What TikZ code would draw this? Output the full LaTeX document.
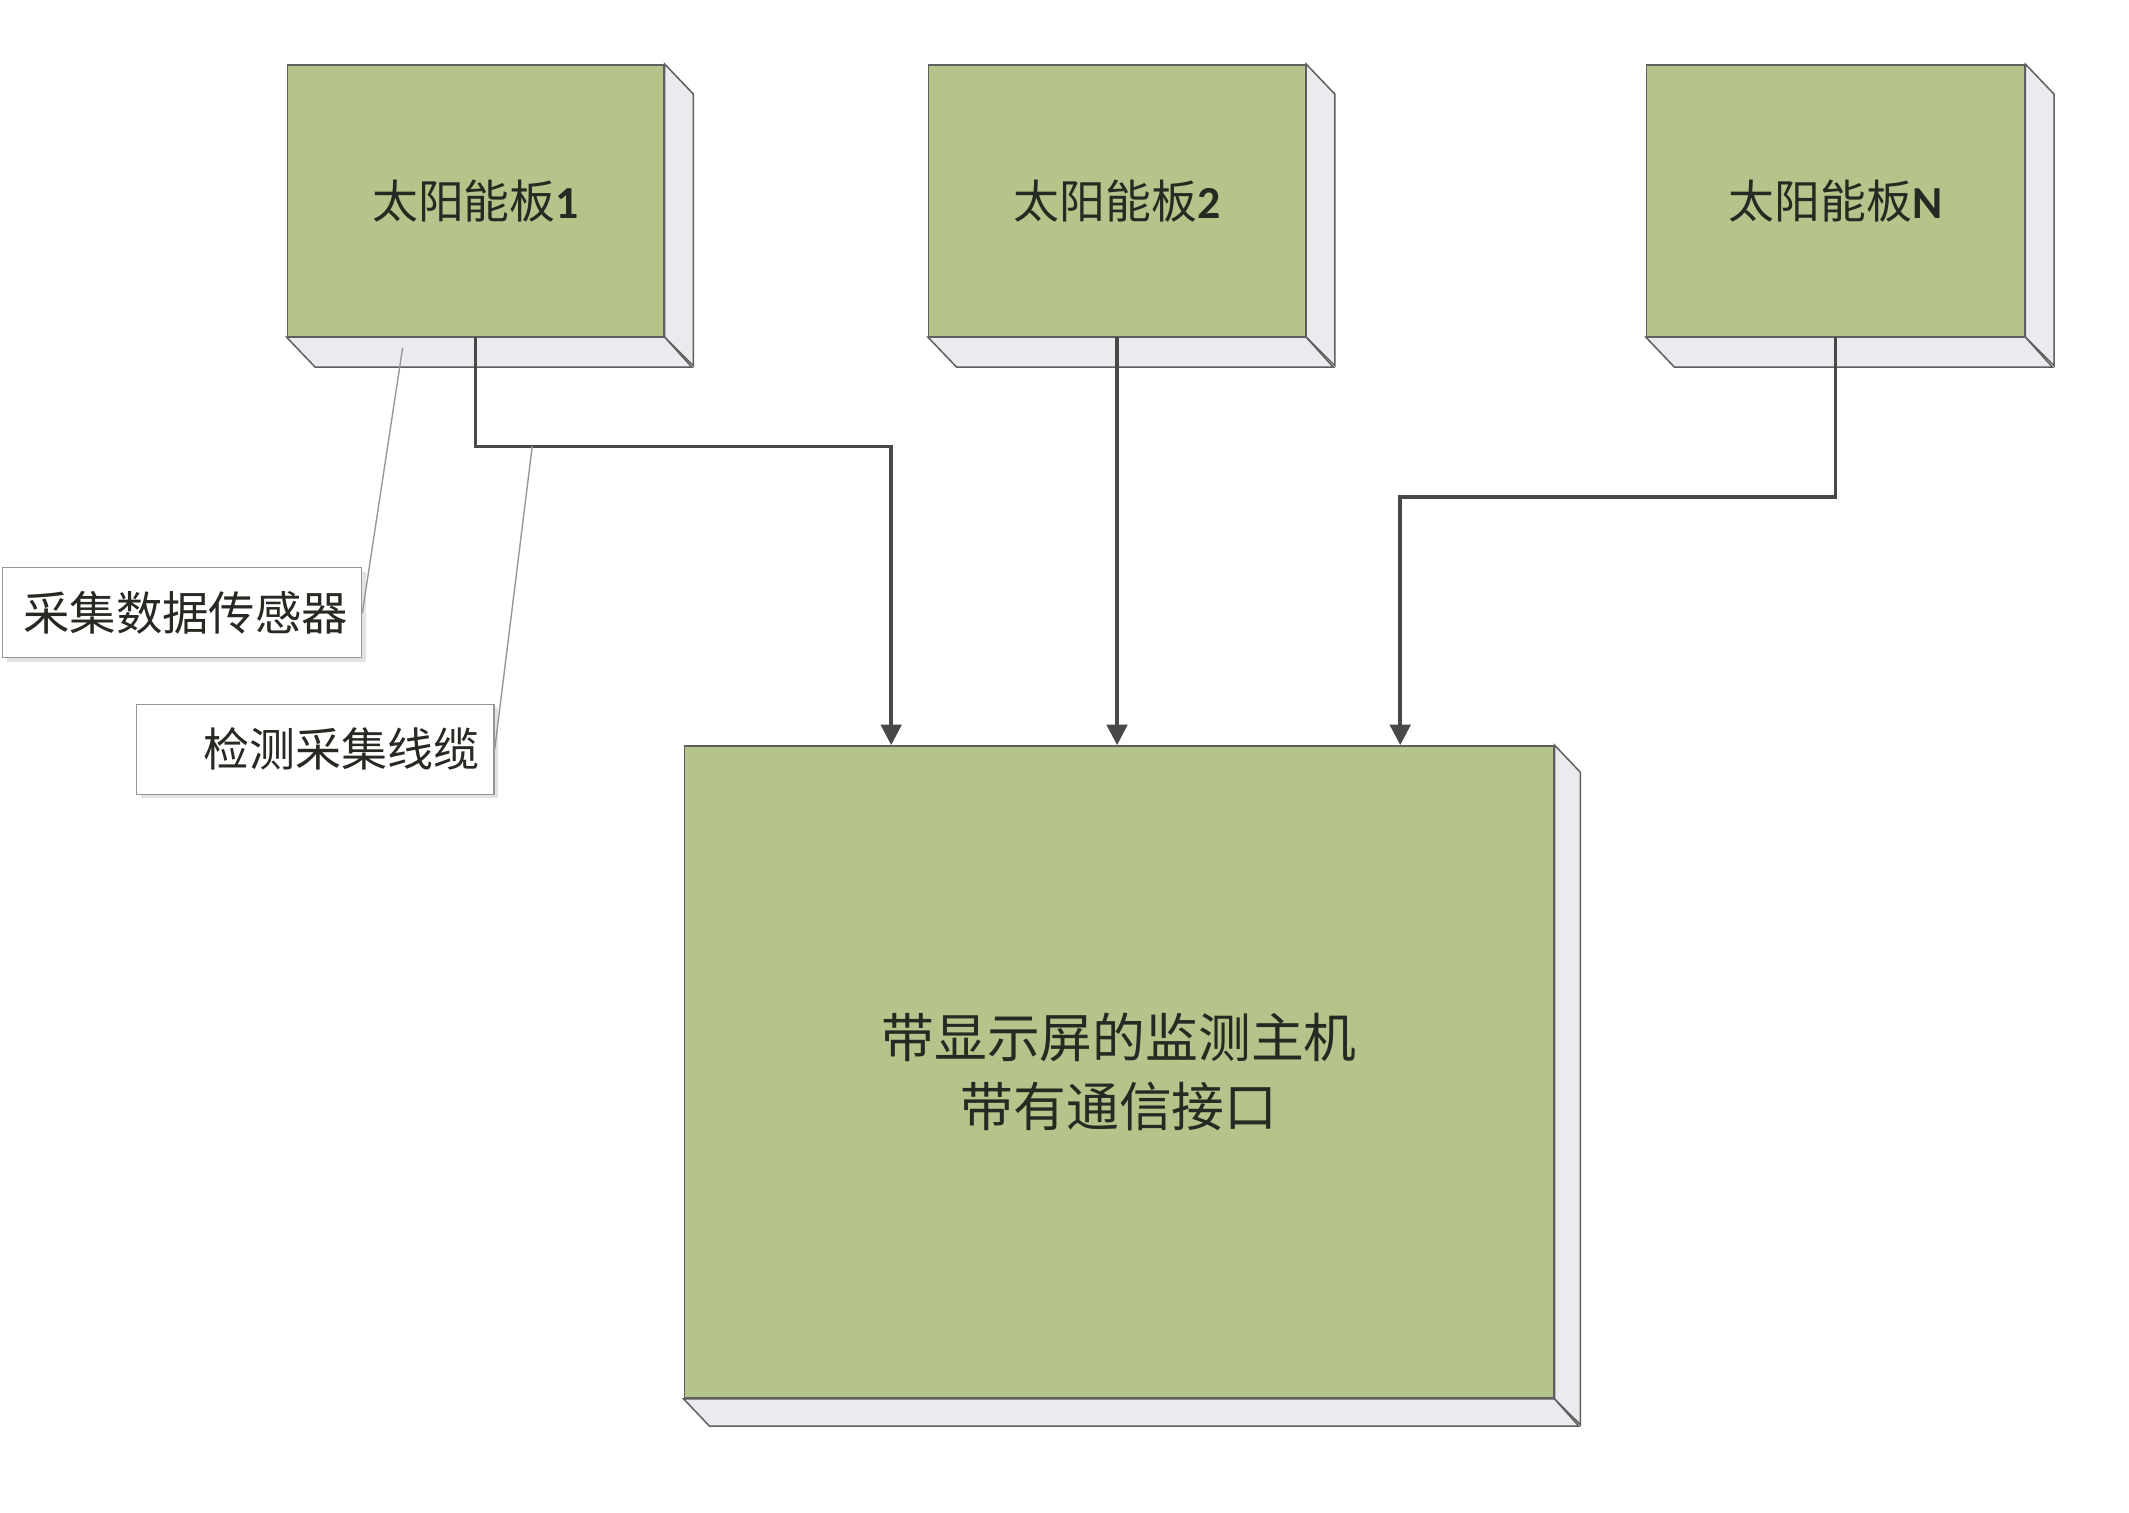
\documentclass[tikz,border=0pt]{standalone}
\usepackage{fontspec}
\usetikzlibrary{arrows.meta,shadows}
\newfontfamily\cjk{Noto Sans CJK SC}
\newfontfamily\latinf{Carlito}
\definecolor{panelgreen}{RGB}{181,196,138}
\definecolor{sidegrey}{RGB}{233,235,238}
\definecolor{edgegrey}{RGB}{95,95,95}
\definecolor{wiregrey}{RGB}{72,72,72}
\definecolor{textdark}{RGB}{38,42,34}
\definecolor{leadergrey}{RGB}{150,150,150}
\tikzset{
  panel/.style={draw=edgegrey, line width=1.1pt, fill=panelgreen, text=textdark, inner sep=0pt},
  sideface/.style={draw=edgegrey, line width=1.1pt, fill=sidegrey, line join=miter},
  wire/.style={draw=wiregrey, line width=2.6pt, -{Triangle[width=15pt,length=15pt]}},
  calloutbox/.style={draw=leadergrey, line width=1pt, fill=white, text=textdark, inner xsep=10pt, inner ysep=0pt, align=right,
    drop shadow={shadow xshift=3pt, shadow yshift=-3pt, fill=black!18, opacity=0.6}},
  leader/.style={draw=leadergrey, line width=1pt}
}
\newcommand\extrude[5]{% name, width, height, dx, dy
  \filldraw[sideface] (#1.north east) -- ++(#4,#5) -- ++(0,#3) -- (#1.south east) -- cycle;
  \filldraw[sideface] (#1.south west) -- ++(#4,#5) -- ++(#2,0) -- (#1.south east) -- cycle;
}
\begin{document}
\begin{tikzpicture}[x=1pt,y=-1pt]
\useasboundingbox[fill=white] (0,0) rectangle (1560,1108);

% solar panels
\node[panel, minimum width=276pt, minimum height=199pt, font={\cjk\fontsize{33.6}{40}\selectfont}] (p1) at (348.5,147) {太阳能板{\latinf\bfseries 1}};
\extrude{p1}{276}{199}{21}{22}
\node[panel, minimum width=276pt, minimum height=199pt, font={\cjk\fontsize{33.6}{40}\selectfont}] (p2) at (818.5,147) {太阳能板{\latinf\bfseries 2}};
\extrude{p2}{276}{199}{21}{22}
\node[panel, minimum width=277pt, minimum height=199pt, font={\cjk\fontsize{33.6}{40}\selectfont}] (p3) at (1345,147) {太阳能板{\latinf\bfseries N}};
\extrude{p3}{277}{199}{21}{22}

% host
\node[panel, minimum width=637pt, minimum height=478pt, align=center, font={\cjk\fontsize{38.7}{51}\selectfont}] (host) at (820,785.5) {带显示屏的监测主机\\带有通信接口};
\extrude{host}{637}{478}{19}{20}

% connectors
\coordinate (j1) at (653,327);
\coordinate (j3) at (1026,364);
\draw[wire] (p1.south) |- (j1) -- (j1 |- host.north);
\draw[wire] (p2.south) -- (p2.south |- host.north);
\draw[wire] (p3.south) |- (j3) -- (j3 |- host.north);

% callouts
\node[calloutbox, minimum width=263pt, minimum height=66pt, text width=243pt, font={\cjk\fontsize{34}{40}\selectfont}] (cal1) at (133.5,449) {采集数据传感器};
\node[calloutbox, minimum width=262pt, minimum height=66pt, text width=240pt, font={\cjk\fontsize{33.7}{40}\selectfont}] (cal2) at (231,549) {检测采集线缆};
\coordinate (l1) at (295,255);
\coordinate (l2) at (390,327);
\draw[leader] (cal1.east) -- (l1);
\draw[leader] (cal2.east) -- (l2);
\end{tikzpicture}
\end{document}
